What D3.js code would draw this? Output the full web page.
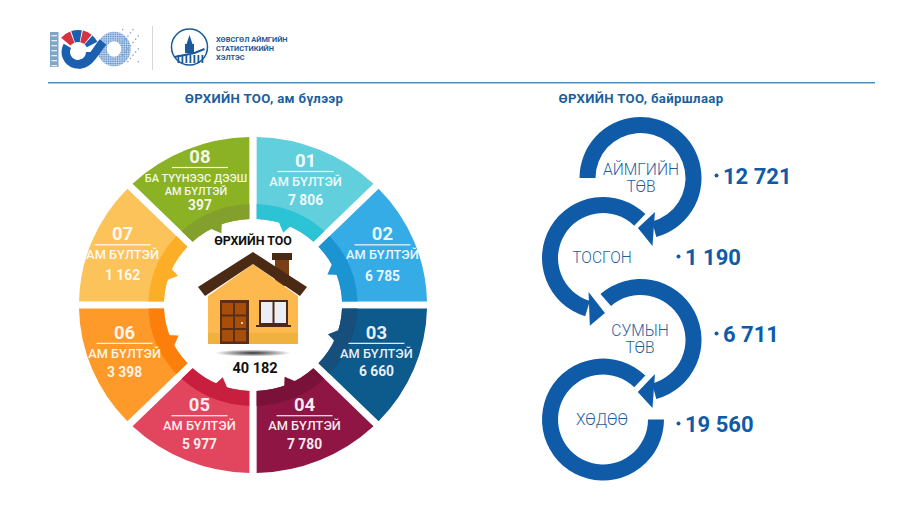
<!DOCTYPE html>
<html>
<head>
<meta charset="utf-8">
<style>
  html, body { margin: 0; background: #fff; }
  text { font-family: Roboto, "Noto Sans", sans-serif; }
</style>
<script src="https://cdn.jsdelivr.net/npm/d3@7/dist/d3.min.js"></script>
</head>
<body>
<div id="chart"></div>
<script>
// households by family size
const sizeCodes = ['01', '02', '03', '04', '05', '06', '07', '08'];
const sizeLabels = ['АМ БҮЛТЭЙ', 'АМ БҮЛТЭЙ', 'АМ БҮЛТЭЙ', 'АМ БҮЛТЭЙ', 'АМ БҮЛТЭЙ', 'АМ БҮЛТЭЙ', 'АМ БҮЛТЭЙ', 'БА ТҮҮНЭЭС ДЭЭШ|АМ БҮЛТЭЙ'];
const sizeValues = [7806, 6785, 6660, 7780, 5977, 3398, 1162, 397];
const sizeColors = ['#62d0dc', '#35ace5', '#0d5a8d', '#8f1544', '#e2465f', '#fd9a2a', '#fdc35b', '#8bb225'];
const ringColors = ['#2cc3d5', '#1d94d2', '#174f7c', '#7a1139', '#c81f3f', '#fc7f0c', '#fcae26', '#84a02c'];
const totalHouseholds = 40182;

// households by location
const placeNames = ['АЙМГИЙН|ТӨВ', 'ТОСГОН', 'СУМЫН|ТӨВ', 'ХӨДӨӨ'];
const placeValues = [12721, 1190, 6711, 19560];

const blue = '#0f5ba8';
const fmt = v => d3.format(',')(v).replace(/,/g, ' ');
const rad = d => d * Math.PI / 180;

const svg = d3.select('#chart').append('svg')
  .attr('width', 900)
  .attr('height', 506)
  .style('display', 'block');
const defs = svg.append('defs');

drawHeader();
drawDonut();
drawPlaces();

function drawHeader() {
  const g = svg.append('g');

  g.append('rect').attr('x', 48).attr('y', 82).attr('width', 827).attr('height', 1.5).attr('fill', '#4f8fbe');
  g.append('rect').attr('x', 152).attr('y', 26).attr('width', 1).attr('height', 44).attr('fill', '#d5d8da');

  // 100 logo: "1" glyph column
  g.append('rect').attr('x', 50).attr('y', 32).attr('width', 8.5).attr('height', 35).attr('fill', '#7fa6c6');
  d3.range(35, 66, 5).forEach(y => {
    g.append('rect').attr('x', 51.5).attr('y', y).attr('width', 5.5).attr('height', 1.3).attr('fill', '#e8eff5');
  });

  // hatched infinity loop plus fading dots
  const hatch = defs.append('pattern').attr('id', 'hatch').attr('patternUnits', 'userSpaceOnUse')
    .attr('width', 1.8).attr('height', 1.8);
  hatch.append('rect').attr('width', 1.8).attr('height', 1.8).attr('fill', '#e4edf6');
  hatch.append('rect').attr('width', 1.25).attr('height', 1.25).attr('fill', '#4f86c4');
  g.append('ellipse').attr('cx', 114).attr('cy', 49).attr('rx', 12).attr('ry', 12.5)
    .attr('fill', 'none').attr('stroke', 'url(#hatch)').attr('stroke-width', 9.5);
  d3.range(122, 140, 2.6).forEach((x, i) => {
    d3.range(29, 62, 3.2).forEach((y, j) => {
      if ((i * 7 + j * 3) % 4 === 0) {
        g.append('rect').attr('x', x).attr('y', y).attr('width', 1.3).attr('height', 1.3).attr('fill', '#7c9bbd');
      }
    });
  });

  // "0" ring with coloured blocks on top, strand running into the loop
  const c = g.append('g').attr('transform', 'translate(78,52)');
  const ring = d3.arc().innerRadius(8).outerRadius(16.5);
  c.append('path').attr('fill', '#1a5fb0').attr('d', ring({ startAngle: rad(90), endAngle: rad(300) }));
  g.append('path')
    .attr('d', 'M78,64.5 C90,64.5 94,53 103,42')
    .attr('fill', 'none').attr('stroke', '#1a5fb0').attr('stroke-width', 8.5);
  const blocks = [[-50, -21, '#d8313f'], [-18, 10, '#1a5fb0'], [13, 38, '#d8313f'], [41, 62, '#1a5fb0']];
  const blockArc = d3.arc().innerRadius(10).outerRadius(22);
  blocks.forEach(b => {
    c.append('path').attr('fill', b[2]).attr('d', blockArc({ startAngle: rad(b[0]), endAngle: rad(b[1]) }));
  });

  // emblem
  const e = g.append('g').attr('transform', 'translate(189.5,47)');
  e.append('circle').attr('r', 18).attr('fill', '#fff').attr('stroke', '#1a5a9a').attr('stroke-width', 1.5);
  e.append('rect').attr('x', -4.5).attr('y', -3).attr('width', 9).attr('height', 9).attr('fill', '#1a5a9a');
  e.append('path').attr('d', 'M-3,-3 L-1,-9 L0,-12 L1,-9 L3,-3 Z').attr('fill', '#1a5a9a');
  e.append('path').attr('d', 'M-15,10 L-5,8 L5,6 L15,2').attr('fill', 'none').attr('stroke', '#1a5a9a').attr('stroke-width', 2);
  d3.range(-12, 14, 4).forEach(x => {
    e.append('rect').attr('x', x).attr('y', 8).attr('width', 1.8).attr('height', 8).attr('fill', '#1a5a9a');
  });

  ['ХӨВСГӨЛ АЙМГИЙН', 'СТАТИСТИКИЙН', 'ХЭЛТЭС'].forEach((t, i) => {
    g.append('text').attr('x', 216).attr('y', 41.8 + i * 9)
      .attr('font-size', 7.4).attr('font-weight', 700).attr('fill', '#1b5a9a').text(t);
  });

  [['ӨРХИЙН ТОО, ам бүлээр', 264], ['ӨРХИЙН ТОО, байршлаар', 641]].forEach(t => {
    g.append('text').attr('x', t[1]).attr('y', 102.5).attr('text-anchor', 'middle')
      .attr('font-size', 13.2).attr('letter-spacing', .35).attr('font-weight', 700).attr('fill', '#1b5f9e').text(t[0]);
  });
}

function drawDonut() {
  const cx = 253, cy = 305, sx = 1.036;
  const pie = d3.pie().value(1).sort(null);
  const slices = pie(sizeCodes.map(() => 1));

  const outer = d3.arc().innerRadius(86).outerRadius(168).padAngle(.042).padRadius(168);
  const inner = d3.arc().innerRadius(86).outerRadius(101).padAngle(.042).padRadius(168);
  const labelArc = d3.arc().innerRadius(130).outerRadius(130);

  // nudge of every label block off the slice centre, and extra drop of its value
  const nudgeX = [1, 5, -1, 0, -2, -4, -6, -1.5];
  const nudgeY = [-2, 1, 0, 2, 2, 0, 1, 0];
  const valueDrop = [0, 3, -1, 0, 0, 0, 2, 0];

  const donut = svg.append('g').attr('transform', `translate(${cx},${cy}) scale(${sx},1)`);

  donut.selectAll('path.slice').data(slices).join('path')
    .attr('class', 'slice')
    .attr('fill', (d, i) => sizeColors[i])
    .attr('d', outer);

  donut.selectAll('path.ring').data(slices).join('path')
    .attr('class', 'ring')
    .attr('fill', (d, i) => ringColors[i])
    .attr('d', inner);

  // small tooth on every slice, pointing at the centre
  const polar = (a, r) => [r * Math.sin(rad(a)), -r * Math.cos(rad(a))];
  donut.selectAll('path.tooth').data(slices).join('path')
    .attr('class', 'tooth')
    .attr('fill', (d, i) => ringColors[i])
    .attr('d', (d, i) => {
      const a = i * 45;
      return d3.line()([polar(a + 16, 88), polar(a + 22, 78), polar(a + 25, 88)]) + 'Z';
    });

  const labels = svg.selectAll('g.label').data(slices).join('g')
    .attr('class', 'label')
    .attr('fill', '#fff')
    .attr('fill-opacity', .92)
    .attr('text-anchor', 'middle')
    .attr('transform', (d, i) => {
      const c = labelArc.centroid(d);
      return `translate(${cx + c[0] * sx + nudgeX[i]},${cy + c[1] + nudgeY[i]})`;
    });

  labels.each(function (d, i) {
    const g = d3.select(this);
    const lines = sizeLabels[i].split('|');
    const two = lines.length > 1;
    const top = two ? -22 : -16;
    g.append('text').attr('y', top).attr('font-size', 18.5).attr('font-weight', 700).text(sizeCodes[i]);
    g.append('rect').attr('x', -28).attr('y', top + 4).attr('width', 56).attr('height', 1.2).attr('fill', '#fff');
    lines.forEach((t, k) => {
      g.append('text').attr('x', two ? -4 : 0).attr('y', (two ? -3 : 3) + k * 13)
        .attr('font-size', two ? 11 : 12.8).attr('font-weight', 500).text(t);
    });
    g.append('text').attr('y', (two ? 25 : 22) + valueDrop[i]).attr('font-size', 13.8).attr('font-weight', 700).text(fmt(sizeValues[i]));
  });

  drawHouse(cx, cy);

  svg.append('text').attr('x', cx).attr('y', 245).attr('text-anchor', 'middle')
    .attr('font-size', 12.4).attr('font-weight', 700).attr('fill', '#111').text('ӨРХИЙН ТОО');
  svg.append('text').attr('x', cx + 2).attr('y', 373).attr('text-anchor', 'middle')
    .attr('font-size', 14.5).attr('font-weight', 700).attr('fill', '#111').text(fmt(totalHouseholds));
}

function drawHouse(cx, cy) {
  const g = svg.append('g').attr('transform', `translate(${cx},${cy})`);

  const grad = defs.append('radialGradient').attr('id', 'shade');
  grad.append('stop').attr('offset', '0%').attr('stop-color', '#333');
  grad.append('stop').attr('offset', '100%').attr('stop-color', '#333').attr('stop-opacity', 0);
  g.append('ellipse').attr('cy', 48).attr('rx', 38).attr('ry', 3.5).attr('fill', 'url(#shade)');

  // chimney
  g.append('rect').attr('x', 22).attr('y', -45).attr('width', 14).attr('height', 26).attr('fill', '#7a3f14');
  g.append('rect').attr('x', 19).attr('y', -52).attr('width', 20).attr('height', 7).attr('fill', '#4a2a14');

  // walls
  g.append('path').attr('d', 'M-45,-9 L0,-41 L45,-9 L45,39 L-45,39 Z').attr('fill', '#fdb94e');
  g.append('rect').attr('x', -45).attr('y', 28).attr('width', 90).attr('height', 11).attr('fill', '#efb23e');

  // roof
  g.append('path')
    .attr('d', 'M0,-53 L54,-18 L47,-9 L0,-41 L-48,-9 L-55,-18 Z')
    .attr('fill', '#4a2a14');

  // door
  g.append('rect').attr('x', -33).attr('y', -5).attr('width', 29).attr('height', 44).attr('fill', '#5a2e12');
  d3.range(2).forEach(c => d3.range(3).forEach(r => {
    g.append('rect').attr('x', -31 + c * 13).attr('y', -2 + r * 13.5)
      .attr('width', 11).attr('height', 11.5).attr('fill', '#a84e0c');
  }));
  g.append('circle').attr('cx', -11).attr('cy', 18).attr('r', 1.1).attr('fill', '#fbe8cf');

  // window
  g.append('rect').attr('x', 6).attr('y', -5).attr('width', 29).attr('height', 25).attr('fill', '#4a2a14');
  g.append('rect').attr('x', 8).attr('y', -3).attr('width', 11.5).attr('height', 21).attr('fill', '#eceef5');
  g.append('rect').attr('x', 21.5).attr('y', -3).attr('width', 11.5).attr('height', 21).attr('fill', '#eceef5');
  g.append('rect').attr('x', 3).attr('y', 20).attr('width', 35).attr('height', 2).attr('fill', '#4a2a14');
}

function drawPlaces() {
  const g = svg.append('g');
  const outerR = 61, innerR = 45;
  const ring = d3.arc().innerRadius(innerR).outerRadius(outerR);

  const polar = (c, a, r) => [c[0] + r * Math.sin(rad(a)), c[1] - r * Math.cos(rad(a))];

  // centre, ring start/end angle, arrow head [inner back, tip, outer back]
  const loops = [
    { c: [640.5, 178], a0: -90, a1: 165, head: [[157, 37], [183, 50], [170, 69]] },
    { c: [603, 258], a0: 44, a1: -163, head: [[-157, 37], [-182, 55], [-169, 69]] },
    { c: [640.5, 340], a0: -41, a1: 165, head: [[157, 37], [183, 52], [170, 69]] },
    { c: [603, 419.5], a0: 44, a1: -270, head: null }
  ];

  loops.forEach(l => {
    g.append('path')
      .attr('transform', `translate(${l.c[0]},${l.c[1]})`)
      .attr('fill', blue)
      .attr('d', ring({ startAngle: rad(l.a0), endAngle: rad(l.a1) }));
    if (l.head) {
      g.append('path')
        .attr('fill', blue)
        .attr('d', d3.line()(l.head.map(h => polar(l.c, h[0], h[1]))) + 'Z');
    }
  });

  const nameX = [641, 602, 640, 602];
  const nameY = [175, 263, 336, 425];
  const valueX = [723, 685, 723, 685];
  const valueY = [184, 265, 342, 432];

  placeNames.forEach((n, i) => {
    n.split('|').forEach((t, k) => {
      g.append('text').attr('x', nameX[i]).attr('y', nameY[i] + k * 16.5)
        .attr('text-anchor', 'middle')
        .attr('font-size', 15.6).attr('font-weight', 300)
        .attr('fill', '#1f5f9e').text(t);
    });
    g.append('circle').attr('cx', valueX[i] - 6.5).attr('cy', valueY[i] - 8.5).attr('r', 2).attr('fill', blue);
    g.append('text').attr('x', valueX[i]).attr('y', valueY[i])
      .attr('font-size', 22).attr('font-weight', 700).attr('fill', blue).text(fmt(placeValues[i]));
  });
}
</script>
</body>
</html>
